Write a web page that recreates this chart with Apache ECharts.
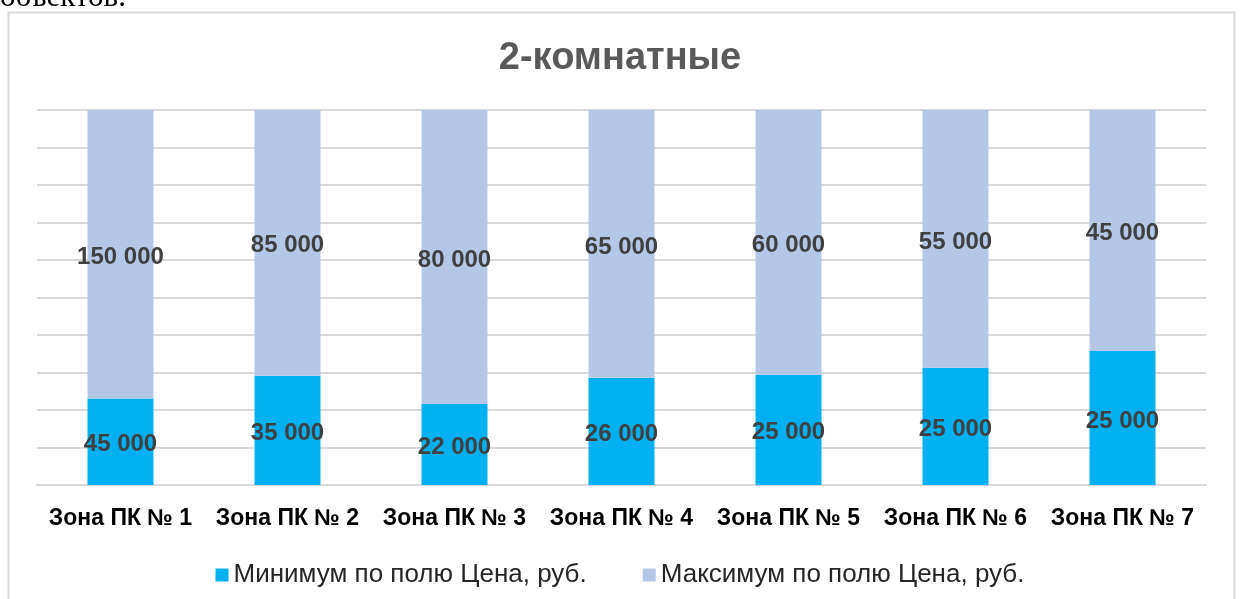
<!DOCTYPE html>
<html>
<head>
<meta charset="utf-8">
<script src="https://cdn.jsdelivr.net/npm/echarts@6/dist/echarts.min.js"></script>
<style>
html,body{margin:0;padding:0;background:#fff;}
#c{width:1240px;height:599px;}
</style>
</head>
<body>
<div id="c"></div>
<script>
const categories = ['Зона ПК № 1','Зона ПК № 2','Зона ПК № 3','Зона ПК № 4','Зона ПК № 5','Зона ПК № 6','Зона ПК № 7'];
const minValues = [45000, 35000, 22000, 26000, 25000, 25000, 25000];
const maxValues = [150000, 85000, 80000, 65000, 60000, 55000, 45000];
const seriesNames = ['Минимум по полю Цена, руб.', 'Максимум по полю Цена, руб.'];
const titleText = '2-комнатные';

const totals = categories.map((c, i) => minValues[i] + maxValues[i]);
const fmt = v => String(v).replace(/\B(?=(\d{3})+(?!\d))/g, ' ');
const mkData = arr => arr.map((v, i) => ({ value: v / totals[i] * 100, raw: v }));

const labelStyle = {
  show: true,
  position: 'inside',
  offset: [0, 3],
  color: '#404040',
  fontFamily: 'Liberation Sans',
  fontWeight: 'bold',
  fontSize: 24,
  formatter: p => fmt(p.data.raw)
};

const chart = echarts.init(document.getElementById('c'));
chart.setOption({
  animation: false,
  backgroundColor: '#fff',
  title: {
    text: titleText,
    left: 'center',
    top: 35,
    textStyle: { color: '#595959', fontFamily: 'Liberation Sans', fontWeight: 'bold', fontSize: 38 }
  },
  graphic: [
    { type: 'rect', shape: { x: 8.5, y: 12.5, width: 1226, height: 620 }, style: { fill: 'none', stroke: '#d9d9d9', lineWidth: 2 }, silent: true },
    { type: 'text', style: { x: 0, y: 13, text: 'объектов.', font: '31px "Liberation Serif"', fill: '#000', verticalAlign: 'bottom' }, silent: true }
  ],
  legend: {
    bottom: 6,
    left: 'center',
    itemWidth: 13,
    itemHeight: 13,
    itemGap: 56,
    icon: 'rect',
    textStyle: { color: '#262626', fontFamily: 'Liberation Sans', fontSize: 26, padding: [0, 0, 0, 0] },
    data: seriesNames
  },
  grid: { left: 37, right: 34, top: 110, bottom: 114 },
  xAxis: {
    type: 'category',
    data: categories,
    axisLine: { lineStyle: { color: '#d9d9d9', width: 2 } },
    axisTick: { show: false },
    axisLabel: { color: '#000', fontFamily: 'Liberation Sans', fontWeight: 'bold', fontSize: 23, margin: 22, interval: 0 }
  },
  yAxis: {
    type: 'value',
    min: 0, max: 100, interval: 10,
    axisLabel: { show: false },
    axisLine: { show: false },
    axisTick: { show: false },
    splitLine: { lineStyle: { color: '#d9d9d9', width: 2 } }
  },
  series: [
    { name: seriesNames[0], type: 'bar', stack: 's', barWidth: '39.5%', itemStyle: { color: '#00B0F0' }, label: labelStyle, data: mkData(minValues) },
    { name: seriesNames[1], type: 'bar', stack: 's', barWidth: '39.5%', itemStyle: { color: '#B4C7E7' }, label: labelStyle, data: mkData(maxValues) }
  ]
});
</script>
</body>
</html>
